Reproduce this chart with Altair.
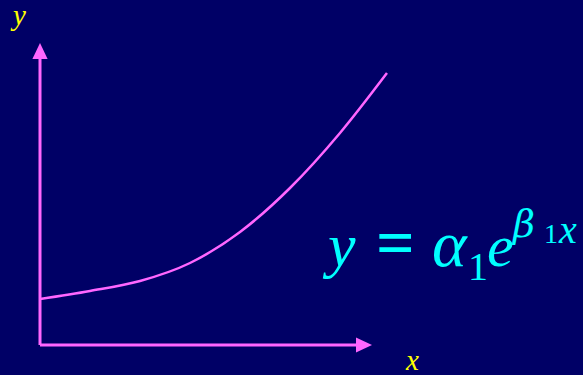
import altair as alt
import pandas as pd

# Growth curve sampled along x (arbitrary units, origin at the axes corner)
curve_x = [0, 50, 100, 150, 200, 250, 300, 347]
curve_y = [46, 54, 64, 82, 113, 157, 212, 272]

# Axis geometry (same units as the curve)
axis_y_top = 286      # end of vertical shaft, below arrowhead
axis_x_right = 316    # end of horizontal shaft, before arrowhead
arrow_up_at = [0, 294]
arrow_right_at = [324, 0]

# Equation pieces: text, x, y (baseline), size, style, weight, font
eq_text = ["y", "=", "α", "1", "e", "β", "1", "x"]
eq_x = [288, 336, 392, 428, 447, 473, 504, 519]
eq_y = [79, 80, 79, 65, 79, 108, 102, 102]
eq_size = [62, 68, 66, 40, 60, 38, 28, 40]
eq_style = ["italic", "normal", "italic", "normal", "italic", "italic", "normal", "italic"]
eq_weight = ["normal", "bold", "normal", "normal", "normal", "normal", "normal", "normal"]
eq_font = ["Liberation Serif", "Liberation Serif", "Liberation Serif", "Liberation Serif",
           "Liberation Serif", "DejaVu Serif", "Liberation Serif", "Liberation Serif"]

# Axis name labels
lab_text = ["y", "x"]
lab_x = [-27, 366]
lab_y = [320, -25]

BG = "#000066"
PINK = "#FF66FF"
CYAN = "#00FFFF"
YELLOW = "#FFFF00"

xs = alt.Scale(domain=[-40, 543], nice=False, zero=False)
ys = alt.Scale(domain=[-30, 345], nice=False, zero=False)

curve_df = pd.DataFrame({"x": curve_x, "y": curve_y})
curve = alt.Chart(curve_df).mark_line(
    color=PINK, strokeWidth=2.5, interpolate="monotone"
).encode(
    x=alt.X("x:Q", scale=xs, axis=None),
    y=alt.Y("y:Q", scale=ys, axis=None),
)

shaft_df = pd.DataFrame({
    "x": [0, 0], "y": [0, 0],
    "x2": [0, axis_x_right], "y2": [axis_y_top, 0],
})
shafts = alt.Chart(shaft_df).mark_rule(color=PINK, strokeWidth=3).encode(
    x=alt.X("x:Q", scale=xs, axis=None),
    y=alt.Y("y:Q", scale=ys, axis=None),
    x2="x2:Q",
    y2="y2:Q",
)

up_df = pd.DataFrame({"x": [arrow_up_at[0]], "y": [arrow_up_at[1]]})
arrow_up = alt.Chart(up_df).mark_point(
    shape="M0,-1L-0.95,1L0.95,1Z", size=256, filled=True, color=PINK, opacity=1
).encode(
    x=alt.X("x:Q", scale=xs, axis=None),
    y=alt.Y("y:Q", scale=ys, axis=None),
)

right_df = pd.DataFrame({"x": [arrow_right_at[0]], "y": [arrow_right_at[1]]})
arrow_right = alt.Chart(right_df).mark_point(
    shape="M1,0L-1,-0.95L-1,0.95Z", size=256, filled=True, color=PINK, opacity=1
).encode(
    x=alt.X("x:Q", scale=xs, axis=None),
    y=alt.Y("y:Q", scale=ys, axis=None),
)

lab_df = pd.DataFrame({"t": lab_text, "x": lab_x, "y": lab_y})
labels = alt.Chart(lab_df).mark_text(
    font="Liberation Serif", fontStyle="italic", fontSize=29,
    color=YELLOW, align="left", baseline="alphabetic",
).encode(
    x=alt.X("x:Q", scale=xs, axis=None),
    y=alt.Y("y:Q", scale=ys, axis=None),
    text="t:N",
)

eq_layers = []
for t, ex, ey, sz, st, wt, fn in zip(eq_text, eq_x, eq_y, eq_size, eq_style, eq_weight, eq_font):
    d = pd.DataFrame({"t": [t], "x": [ex], "y": [ey]})
    eq_layers.append(
        alt.Chart(d).mark_text(
            font=fn, fontStyle=st, fontWeight=wt, fontSize=sz,
            color=CYAN, align="left", baseline="alphabetic",
        ).encode(
            x=alt.X("x:Q", scale=xs, axis=None),
            y=alt.Y("y:Q", scale=ys, axis=None),
            text="t:N",
        )
    )

chart = alt.layer(curve, shafts, arrow_up, arrow_right, labels, *eq_layers).properties(
    width=583, height=375,
    autosize=alt.AutoSizeParams(type="none"),
    padding=0,
    background=BG,
).configure_view(stroke=None)

chart.save("out.html", embed_options={"renderer": "svg", "actions": False})
